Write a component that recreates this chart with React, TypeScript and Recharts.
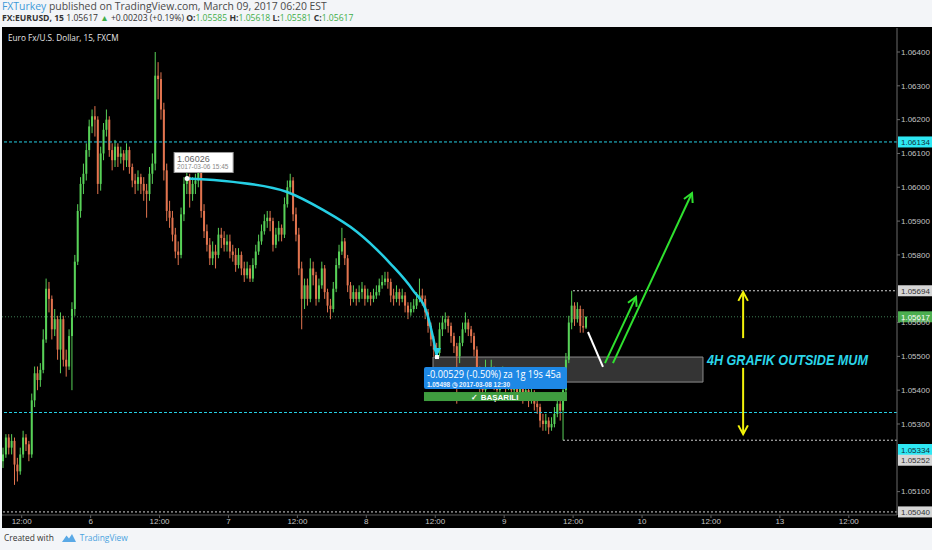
import React from 'react';
import { ComposedChart, Bar, Line, XAxis, YAxis, ReferenceLine, ReferenceDot, ReferenceArea } from 'recharts';

// EUR/USD, 30 minute bars (Istanbul time).
// Hours count trading time from Fri 03 Mar 12:00, weekend skipped, so 12 = Mon 06 Mar 00:00.
const firstOpen = 1.0519;
const firstBarHour = -3.25;
const barHours = 0.5;

const closes = [
  1.0521, 1.0526, 1.0523, 1.0525, 1.0518, 1.0516, 1.0521, 1.0526, 1.0524, 1.0521,
  1.0537, 1.0545, 1.0543, 1.0546, 1.0555, 1.0570, 1.0567, 1.0558, 1.0561, 1.0552,
  1.0561, 1.0549, 1.0547, 1.0556, 1.0564, 1.0578, 1.0593, 1.0601, 1.0604, 1.0611,
  1.0618, 1.0621, 1.0620, 1.0601, 1.0610, 1.0617, 1.0620, 1.0611, 1.0608, 1.0612,
  1.0609, 1.0610, 1.0608, 1.0611, 1.0606, 1.0602, 1.0601, 1.0603, 1.0601, 1.0599,
  1.0598, 1.0604, 1.0607, 1.0633, 1.0632, 1.0623, 1.0605, 1.0593, 1.0591, 1.0586,
  1.0581, 1.0580, 1.0592, 1.0601, 1.0603, 1.0598, 1.0601, 1.0602, 1.0605, 1.0593,
  1.0587, 1.0583, 1.0579, 1.0581, 1.0580, 1.0586, 1.0585, 1.0583, 1.0584, 1.0581,
  1.0580, 1.0577, 1.0580, 1.0576, 1.0574, 1.0576, 1.0573, 1.0577, 1.0581, 1.0584,
  1.0587, 1.0590, 1.0591, 1.0590, 1.0583, 1.0586, 1.0588, 1.0586, 1.0595, 1.0600,
  1.0602, 1.0592, 1.0586, 1.0576, 1.0567, 1.0571, 1.0567, 1.0576, 1.0574, 1.0567,
  1.0571, 1.0576, 1.0569, 1.0565, 1.0564, 1.0570, 1.0577, 1.0581, 1.0584, 1.0579,
  1.0571, 1.0567, 1.0569, 1.0567, 1.0569, 1.0570, 1.0567, 1.0568, 1.0567, 1.0568,
  1.0569, 1.0571, 1.0572, 1.0573, 1.0572, 1.0568, 1.0567, 1.0569, 1.0567, 1.0568,
  1.0565, 1.0563, 1.0564, 1.0565, 1.0567, 1.0568, 1.0567, 1.0563, 1.0559, 1.0555,
  1.0552, 1.0551, 1.0558, 1.0560, 1.0561, 1.0559, 1.0556, 1.0553, 1.0550, 1.0554,
  1.0558, 1.0560, 1.0558, 1.0556, 1.0552, 1.0546, 1.0541, 1.0540, 1.0545, 1.0543,
  1.0546, 1.0542, 1.0540, 1.0543, 1.0545, 1.0541, 1.0543, 1.0540, 1.0542, 1.0539,
  1.0541, 1.0538, 1.0540, 1.0537, 1.0539, 1.0536, 1.0535, 1.0531, 1.0530, 1.0531,
  1.0529, 1.0530, 1.0533, 1.0536, 1.0534, 1.0540, 1.0549, 1.0560, 1.0565, 1.0561,
  1.0564, 1.0559, 1.05585, 1.05617,
];

const highs = [
  1.0523, 1.0527, 1.0527, 1.0527, 1.0526, 1.0520, 1.0523, 1.0528, 1.0527, 1.0525,
  1.0539, 1.0547, 1.0547, 1.0548, 1.0558, 1.0573, 1.0572, 1.0568, 1.0564, 1.0562,
  1.0563, 1.0562, 1.0552, 1.0558, 1.0566, 1.0580, 1.0595, 1.0603, 1.0607, 1.0613,
  1.0620, 1.0623, 1.0624, 1.0621, 1.0612, 1.0619, 1.0623, 1.0621, 1.0613, 1.0614,
  1.0613, 1.0612, 1.0611, 1.0613, 1.0612, 1.0607, 1.0604, 1.0605, 1.0604, 1.0603,
  1.0601, 1.0606, 1.0610, 1.0640, 1.0637, 1.0634, 1.0625, 1.0607, 1.0596, 1.0593,
  1.0588, 1.0584, 1.0594, 1.0603, 1.0605, 1.0604, 1.0603, 1.0604, 1.0606, 1.0606,
  1.0595, 1.0589, 1.0585, 1.0584, 1.0583, 1.0588, 1.0588, 1.0587, 1.0586, 1.0586,
  1.0583, 1.0582, 1.0582, 1.0581, 1.0578, 1.0578, 1.0577, 1.0579, 1.0583, 1.0586,
  1.0589, 1.0592, 1.0593, 1.0593, 1.0591, 1.0588, 1.0590, 1.0589, 1.0597, 1.0602,
  1.0604, 1.0603, 1.0594, 1.0588, 1.0578, 1.0573, 1.0573, 1.0579, 1.0578, 1.0575,
  1.0573, 1.0578, 1.0577, 1.0570, 1.0567, 1.0572, 1.0579, 1.0583, 1.0588, 1.0585,
  1.0580, 1.0572, 1.0571, 1.0570, 1.0571, 1.0572, 1.0571, 1.0570, 1.0569, 1.0570,
  1.0571, 1.0573, 1.0574, 1.0575, 1.0575, 1.0573, 1.0570, 1.0571, 1.0570, 1.0570,
  1.0569, 1.0566, 1.0566, 1.0567, 1.0569, 1.0573, 1.0570, 1.0568, 1.0564, 1.0560,
  1.0556, 1.0554, 1.0560, 1.0562, 1.0563, 1.0562, 1.0560, 1.0557, 1.0554, 1.0556,
  1.0560, 1.0563, 1.0561, 1.0559, 1.0557, 1.0553, 1.0547, 1.0543, 1.0549, 1.0546,
  1.0549, 1.0547, 1.0543, 1.0545, 1.0547, 1.0546, 1.0545, 1.0544, 1.0544, 1.0543,
  1.0543, 1.0542, 1.0542, 1.0541, 1.0541, 1.0540, 1.0538, 1.0536, 1.0533, 1.0533,
  1.0532, 1.0532, 1.0535, 1.0538, 1.0537, 1.0542, 1.0551, 1.0562, 1.05694, 1.0566,
  1.0566, 1.0565, 1.0564, 1.05618,
];

const lows = [
  1.0517, 1.0520, 1.0521, 1.0521, 1.0512, 1.0513, 1.0515, 1.0520, 1.0522, 1.0519,
  1.0520, 1.0535, 1.0540, 1.0541, 1.0545, 1.0554, 1.0563, 1.0555, 1.0556, 1.0549,
  1.0545, 1.0547, 1.0544, 1.0546, 1.0540, 1.0562, 1.0577, 1.0591, 1.0598, 1.0602,
  1.0609, 1.0616, 1.0615, 1.0598, 1.0599, 1.0608, 1.0615, 1.0609, 1.0605, 1.0606,
  1.0606, 1.0607, 1.0605, 1.0606, 1.0604, 1.0600, 1.0598, 1.0599, 1.0598, 1.0596,
  1.0591, 1.0596, 1.0601, 1.0605, 1.0626, 1.0620, 1.0602, 1.0590, 1.0588, 1.0584,
  1.0579, 1.0577, 1.0579, 1.0590, 1.0598, 1.0594, 1.0596, 1.0598, 1.0600, 1.0591,
  1.0585, 1.0581, 1.0577, 1.0577, 1.0576, 1.0579, 1.0582, 1.0581, 1.0581, 1.0579,
  1.0578, 1.0575, 1.0576, 1.0574, 1.0572, 1.0573, 1.0572, 1.0572, 1.0576, 1.0580,
  1.0583, 1.0586, 1.0588, 1.0587, 1.0581, 1.0582, 1.0584, 1.0584, 1.0585, 1.0594,
  1.0598, 1.0590, 1.0584, 1.0574, 1.0558, 1.0564, 1.0565, 1.0566, 1.0571, 1.0565,
  1.0566, 1.0570, 1.0567, 1.0563, 1.0561, 1.0563, 1.0569, 1.0576, 1.0580, 1.0577,
  1.0569, 1.0565, 1.0566, 1.0565, 1.0566, 1.0567, 1.0565, 1.0566, 1.0565, 1.0566,
  1.0567, 1.0568, 1.0570, 1.0571, 1.0570, 1.0566, 1.0565, 1.0566, 1.0565, 1.0566,
  1.0563, 1.0561, 1.0562, 1.0563, 1.0564, 1.0566, 1.0565, 1.0561, 1.0557, 1.0553,
  1.0550, 1.05498, 1.0550, 1.0556, 1.0558, 1.0557, 1.0554, 1.0551, 1.0536, 1.0548,
  1.0553, 1.0557, 1.0556, 1.0554, 1.0550, 1.0544, 1.0539, 1.0538, 1.0539, 1.0541,
  1.0542, 1.0540, 1.0538, 1.0539, 1.0542, 1.0539, 1.0540, 1.0538, 1.0539, 1.0537,
  1.0538, 1.0536, 1.0537, 1.0535, 1.0536, 1.0534, 1.0533, 1.0529, 1.0528, 1.0528,
  1.0527, 1.0528, 1.0529, 1.0532, 1.0531, 1.05252, 1.0539, 1.0548, 1.0558, 1.0559,
  1.0560, 1.0557, 1.0557, 1.05581,
];

const timeTicks = [0, 12, 24, 36, 48, 60, 72, 84, 96, 108, 120, 132, 144];
const timeLabels = ['12:00', '6', '12:00', '7', '12:00', '8', '12:00', '9', '12:00', '10', '12:00', '13', '12:00'];
// 1.05200 and 1.05700 sit behind the level tags in the original
const priceTicks = [1.051, 1.053, 1.054, 1.055, 1.056, 1.058, 1.059, 1.06, 1.061, 1.062, 1.063, 1.064];

// drawn levels
const cyanLevels = [1.06134, 1.05334];
const lastPrice = 1.05617;
const rangeHigh = 1.05694;
const rangeLow = 1.05252;
const periodLow = 1.0504;

// measurement arc from the 06 Mar top down to the 08 Mar low
const arcHours = [28.8, 36.8, 46.2, 52.45, 58.4, 64.1, 68.1, 70.55, 71.6, 72.3];
const arcPrices = [1.06026, 1.06016, 1.05986, 1.05933, 1.05868, 1.05776, 1.05696, 1.05628, 1.05557, 1.05498];

const X_DOMAIN: [number, number] = [-3.43, 152.39];
const Y_DOMAIN: [number, number] = [1.050309, 1.06471];

const UP = '#58d158';
const DOWN = '#e2744f';
const CYAN = '#26cfe4';
const AXIS_TEXT = '#c4c4c4';
const FONT = "'Liberation Sans', Arial, sans-serif";
const UI_FONT = "'Open Sans', 'Liberation Sans', sans-serif";

const candles = closes.map((c, i) => ({
  h: firstBarHour + i * barHours,
  open: i === 0 ? firstOpen : closes[i - 1],
  close: c,
  high: highs[i],
  low: lows[i],
  range: [lows[i], highs[i]],
}));

const arcData = arcHours.map((h, i) => ({ h, p: arcPrices[i] }));

const Candle = (props: any) => {
  const { x, y, width, height, payload } = props;
  if (!payload || x == null) return null;
  const { open, close, high, low } = payload;
  const top = Math.min(y, y + height);
  const bottom = Math.max(y, y + height);
  const cx = x + width / 2;
  const span = high - low || 1e-9;
  const py = (v: number) => top + ((high - v) / span) * (bottom - top);
  const color = close >= open ? UP : DOWN;
  const bodyTop = py(Math.max(open, close));
  const bodyH = Math.max(1, py(Math.min(open, close)) - bodyTop);
  return (
    <g>
      <line x1={cx} x2={cx} y1={top} y2={bottom} stroke={color} strokeWidth={1} />
      <rect x={cx - 1} y={bodyTop} width={2} height={bodyH} fill={color} />
    </g>
  );
};

const arrowShape = (color: string, width: number, head: boolean) => (props: any) => {
  const { x1, y1, x2, y2 } = props;
  const a = Math.atan2(y2 - y1, x2 - x1);
  const len = 10;
  const spread = 0.5;
  const p1 = `${x2 - len * Math.cos(a - spread)},${y2 - len * Math.sin(a - spread)}`;
  const p2 = `${x2 - len * Math.cos(a + spread)},${y2 - len * Math.sin(a + spread)}`;
  return (
    <g>
      <line x1={x1} y1={y1} x2={x2} y2={y2} stroke={color} strokeWidth={width} />
      {head && <polyline points={`${p1} ${x2},${y2} ${p2}`} fill="none" stroke={color} strokeWidth={width} />}
    </g>
  );
};

const priceTag = (text: string, bg: string, fg: string, dy: number) => (props: any) => {
  const { cx, cy } = props;
  return (
    <g>
      <rect x={cx + 1} y={cy + dy - 5.5} width={34} height={11} fill={bg} />
      <text x={cx + 4} y={cy + dy + 3} fontSize={8} fontFamily={FONT} fill={fg}>{text}</text>
    </g>
  );
};

const StartTip = (props: any) => {
  const { cx, cy } = props;
  return (
    <g>
      <rect x={cx - 13} y={cy - 26} width={59} height={20} fill="#ffffff" stroke="#9a9a9a" strokeWidth={1} />
      <text x={cx - 10} y={cy - 16} fontSize={9} fontFamily={FONT} fill="#666">1.06026</text>
      <text x={cx - 10} y={cy - 9} fontSize={6.5} fontFamily={FONT} fill="#888">2017-03-06 15:45</text>
      <circle cx={cx} cy={cy} r={2.5} fill="#ffffff" />
    </g>
  );
};

const MeasureLabel = (props: any) => {
  const { cx, cy } = props;
  return (
    <g>
      <polygon points={`${cx - 4},${cy - 9} ${cx + 4},${cy - 9} ${cx},${cy - 1}`} fill={CYAN} />
      <rect x={cx - 2} y={cy - 2} width={4} height={4} fill="#ffffff" />
      <rect x={cx - 13} y={cy + 10} width={143} height={22} rx={2} fill="#1e88e5" />
      <text x={cx - 10} y={cy + 21} fontSize={10.5} fontFamily={UI_FONT} fill="#fff" textLength={134} lengthAdjust="spacingAndGlyphs">
        -0.00529 (-0.50%) za 1g 19s 45a
      </text>
      <text x={cx - 10} y={cy + 29.5} fontSize={7} fontWeight="bold" fontFamily={FONT} fill="#e8f2ff" textLength={83} lengthAdjust="spacingAndGlyphs">
        1.05498  ◷ 2017-03-08  12:30
      </text>
      <rect x={cx - 13} y={cy + 35} width={143} height={9} fill="#3f9c3f" />
      <text x={cx + 58} y={cy + 42.5} textAnchor="middle" fontSize={8} fontWeight="bold" fontFamily={FONT} fill="#fff">
        ✓ BAŞARILI
      </text>
    </g>
  );
};

const NoteText = (props: any) => {
  const { cx, cy } = props;
  return (
    <text x={cx} y={cy} fill="#2bd6ea" fontSize={15} fontWeight="bold" fontStyle="italic" fontFamily={FONT}
      textLength={161} lengthAdjust="spacingAndGlyphs">
      4H GRAFIK OUTSIDE MUM
    </text>
  );
};

const green = { color: '#3fae49' };

export default function App() {
  return (
    <div style={{ position: 'absolute', left: 0, top: 0, width: 932, height: 550, background: '#f3f5f8', overflow: 'hidden' }}>
      <div style={{ position: 'absolute', left: 2, top: 1, fontSize: 10.4, lineHeight: '11px', color: '#4a4a4a', fontFamily: UI_FONT, whiteSpace: 'nowrap' }}>
        <span style={{ color: '#3d9ad9' }}>FXTurkey</span> published on TradingView.com, March 09, 2017 06:20 EST
      </div>
      <div style={{ position: 'absolute', left: 2, top: 13, fontSize: 8.6, lineHeight: '10px', color: '#333', fontFamily: UI_FONT, whiteSpace: 'nowrap' }}>
        <b>FX:EURUSD, 15</b> 1.05617 <span style={green}>▲</span> +0.00203 (+0.19%) <b>O:</b><span style={green}>1.05585</span>{' '}
        <b>H:</b><span style={green}>1.05618</span> <b>L:</b><span style={green}>1.05581</span> <b>C:</b><span style={green}>1.05617</span>
      </div>

      <div style={{ position: 'absolute', left: 2, top: 27, width: 930, height: 501, background: '#000' }}>
        <ComposedChart width={930} height={501} data={candles} margin={{ top: 1, right: 0, bottom: 0, left: 0 }}>
          <XAxis
            dataKey="h"
            type="number"
            domain={X_DOMAIN}
            allowDataOverflow
            ticks={timeTicks}
            interval={0}
            tickFormatter={(v: number) => timeLabels[timeTicks.indexOf(v)] ?? ''}
            height={13}
            tickSize={3}
            tickMargin={0}
            stroke="#5a5a5a"
            tick={{ fill: AXIS_TEXT, fontSize: 8, fontFamily: FONT }}
          />
          <YAxis
            orientation="right"
            type="number"
            domain={Y_DOMAIN}
            allowDataOverflow
            ticks={priceTicks}
            interval={0}
            width={35}
            tickSize={3}
            tickMargin={1}
            stroke="#6a6a6a"
            tickFormatter={(v: number) => v.toFixed(5)}
            tick={{ fill: AXIS_TEXT, fontSize: 8, fontFamily: FONT }}
          />

          {cyanLevels.map((lv) => (
            <ReferenceLine key={lv} y={lv} stroke={CYAN} strokeDasharray="3 2" strokeWidth={1} />
          ))}
          <ReferenceLine y={lastPrice} stroke="#3f7f55" strokeDasharray="1 2" strokeWidth={1} />
          <ReferenceLine segment={[{ x: 95.98, y: rangeHigh }, { x: X_DOMAIN[1], y: rangeHigh }]} stroke="#d0d0d0" strokeDasharray="2 2" ifOverflow="visible" />
          <ReferenceLine segment={[{ x: 94.24, y: rangeLow }, { x: X_DOMAIN[1], y: rangeLow }]} stroke="#d0d0d0" strokeDasharray="2 2" ifOverflow="visible" />
          <ReferenceLine y={periodLow} stroke="#d0d0d0" strokeDasharray="2 2" />

          <Bar dataKey="range" barSize={2} shape={Candle} isAnimationActive={false} />

          <Line data={arcData} dataKey="p" type="monotone" stroke={CYAN} strokeWidth={2.5} dot={false} isAnimationActive={false} />

          <ReferenceArea x1={71.61} x2={118.61} y1={1.05424} y2={1.05498} fill="#4a4a4a" fillOpacity={0.7} stroke="#8c8c8c" strokeWidth={1} ifOverflow="visible" />

          <ReferenceLine segment={[{ x: 98.59, y: 1.05572 }, { x: 101.2, y: 1.05469 }]} shape={arrowShape('#ffffff', 2, false)} ifOverflow="visible" />
          <ReferenceLine segment={[{ x: 101.55, y: 1.0548 }, { x: 106.95, y: 1.05676 }]} shape={arrowShape('#2fe12f', 2, true)} ifOverflow="visible" />
          <ReferenceLine segment={[{ x: 102.94, y: 1.0548 }, { x: 116.7, y: 1.05983 }]} shape={arrowShape('#2fe12f', 2, true)} ifOverflow="visible" />
          <ReferenceLine segment={[{ x: 125.6, y: 1.05554 }, { x: 125.6, y: 1.0569 }]} shape={arrowShape('#f2f20a', 2, true)} ifOverflow="visible" />
          <ReferenceLine segment={[{ x: 125.6, y: 1.05466 }, { x: 125.6, y: 1.0527 }]} shape={arrowShape('#f2f20a', 2, true)} ifOverflow="visible" />

          <ReferenceDot x={arcHours[0]} y={arcPrices[0]} r={3} shape={StartTip} ifOverflow="visible" />
          <ReferenceDot x={arcHours[arcHours.length - 1]} y={arcPrices[arcPrices.length - 1]} r={3} shape={MeasureLabel} ifOverflow="visible" />
          <ReferenceDot x={119.3} y={1.05475} r={1} shape={NoteText} ifOverflow="visible" />

          <ReferenceDot x={X_DOMAIN[1]} y={1.06134} r={1} shape={priceTag('1.06134', '#2ee8f4', '#10303a', 0)} ifOverflow="visible" />
          <ReferenceDot x={X_DOMAIN[1]} y={rangeHigh} r={1} shape={priceTag('1.05694', '#d6d6d6', '#333', 0)} ifOverflow="visible" />
          <ReferenceDot x={X_DOMAIN[1]} y={lastPrice} r={1} shape={priceTag('1.05617', '#4caf50', '#ffffff', 0)} ifOverflow="visible" />
          <ReferenceDot x={X_DOMAIN[1]} y={1.05334} r={1} shape={priceTag('1.05334', '#2ee8f4', '#10303a', 37)} ifOverflow="visible" />
          <ReferenceDot x={X_DOMAIN[1]} y={rangeLow} r={1} shape={priceTag('1.05252', '#d6d6d6', '#333', 20)} ifOverflow="visible" />
          <ReferenceDot x={X_DOMAIN[1]} y={periodLow} r={1} shape={priceTag('1.05040', '#d6d6d6', '#333', 0)} ifOverflow="visible" />
        </ComposedChart>
        <div style={{ position: 'absolute', left: 6, top: 5, color: '#e6e6e6', fontSize: 8.2, fontFamily: UI_FONT, whiteSpace: 'nowrap' }}>
          Euro Fx/U.S. Dollar, 15, FXCM
        </div>
      </div>

      <div style={{ position: 'absolute', left: 4, top: 532, fontSize: 8.4, color: '#333', fontFamily: UI_FONT, whiteSpace: 'nowrap', display: 'flex', alignItems: 'center' }}>
        <span>Created with</span>
        <svg width={14} height={9} style={{ marginLeft: 8, marginRight: 4 }}>
          <path d="M0 9 L4.5 2.5 L7 5.5 L10 1 L14 9 Z" fill="#5aa9e6" />
        </svg>
        <span style={{ color: '#4aa3df' }}>TradingView</span>
      </div>
    </div>
  );
}
